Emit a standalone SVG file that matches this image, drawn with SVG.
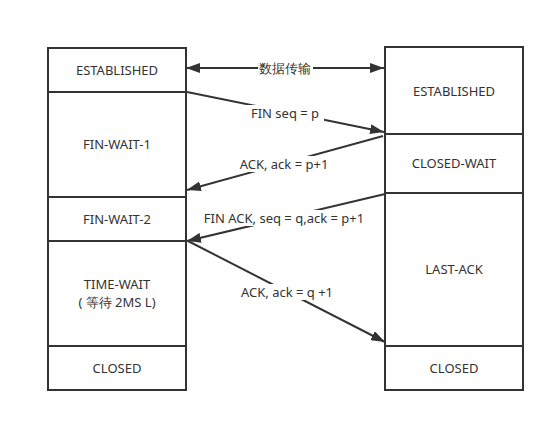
<svg xmlns="http://www.w3.org/2000/svg" width="555" height="422" viewBox="0 0 555 422">
<style>
.box{fill:#fff;stroke:#333;stroke-width:2}
.sep{stroke:#333;stroke-width:2}
.t{font-family:"Noto Sans","Open Sans",sans-serif;font-size:13px;fill:#333;text-anchor:middle;dominant-baseline:central}
.c{stroke:#333;stroke-width:2;fill:none}
.lb{fill:#fff}
</style>
<defs>
<marker id="ah" viewBox="0 0 14 10" refX="14" refY="5" markerWidth="14" markerHeight="10" markerUnits="userSpaceOnUse" orient="auto-start-reverse">
<path d="M0,0 L14,5 L0,10 z" fill="#333"/>
</marker>
</defs>
<rect width="555" height="422" fill="#fff"/>
<g id="left">
<rect class="box" x="48" y="48" width="138" height="342"/>
<line class="sep" x1="48" y1="92" x2="186" y2="92"/>
<line class="sep" x1="48" y1="197" x2="186" y2="197"/>
<line class="sep" x1="48" y1="241" x2="186" y2="241"/>
<line class="sep" x1="48" y1="346" x2="186" y2="346"/>
</g>
<g id="l-established"><text class="t" x="117" y="70">ESTABLISHED</text></g>
<g id="l-finwait1"><text class="t" x="117" y="144">FIN-WAIT-1</text></g>
<g id="l-finwait2"><text class="t" x="117" y="219">FIN-WAIT-2</text></g>
<g id="l-timewait"><text class="t" x="117" y="284">TIME-WAIT</text><text class="t" x="117" y="302">( 等待 2MS L)</text></g>
<g id="l-closed"><text class="t" x="117" y="368">CLOSED</text></g>
<g id="right">
<rect class="box" x="385" y="47" width="138" height="343"/>
<line class="sep" x1="385" y1="134" x2="523" y2="134"/>
<line class="sep" x1="385" y1="193" x2="523" y2="193"/>
<line class="sep" x1="385" y1="346" x2="523" y2="346"/>
</g>
<g id="r-established"><text class="t" x="454" y="91">ESTABLISHED</text></g>
<g id="r-closewait"><text class="t" x="454" y="163">CLOSED-WAIT</text></g>
<g id="r-lastack"><text class="t" x="454" y="269">LAST-ACK</text></g>
<g id="r-closed"><text class="t" x="454" y="368">CLOSED</text></g>
<g id="connectors">
<line class="c" x1="186" y1="68" x2="384" y2="68" marker-start="url(#ah)" marker-end="url(#ah)"/>
<line class="c" x1="187" y1="92" x2="384" y2="132" marker-end="url(#ah)"/>
<line class="c" x1="383" y1="136" x2="187" y2="190" marker-end="url(#ah)"/>
<line class="c" x1="385" y1="194" x2="187" y2="241" marker-end="url(#ah)"/>
<line class="c" x1="188" y1="241" x2="385" y2="342" marker-end="url(#ah)"/>
<rect class="lb" x="258" y="60" width="55" height="16"/>
<text class="t" x="285" y="68">数据传输</text>
<rect class="lb" x="246" y="105" width="78" height="16"/>
<text class="t" x="285" y="113">FIN seq = p</text>
<rect class="lb" x="233" y="156" width="102" height="16"/>
<text class="t" x="284" y="164">ACK, ack = p+1</text>
<rect class="lb" x="195" y="210" width="179" height="16"/>
<text class="t" x="284" y="218">FIN ACK, seq = q,ack = p+1</text>
<rect class="lb" x="234" y="284" width="106" height="16"/>
<text class="t" x="287" y="292">ACK, ack = q +1</text>
</g>
</svg>
